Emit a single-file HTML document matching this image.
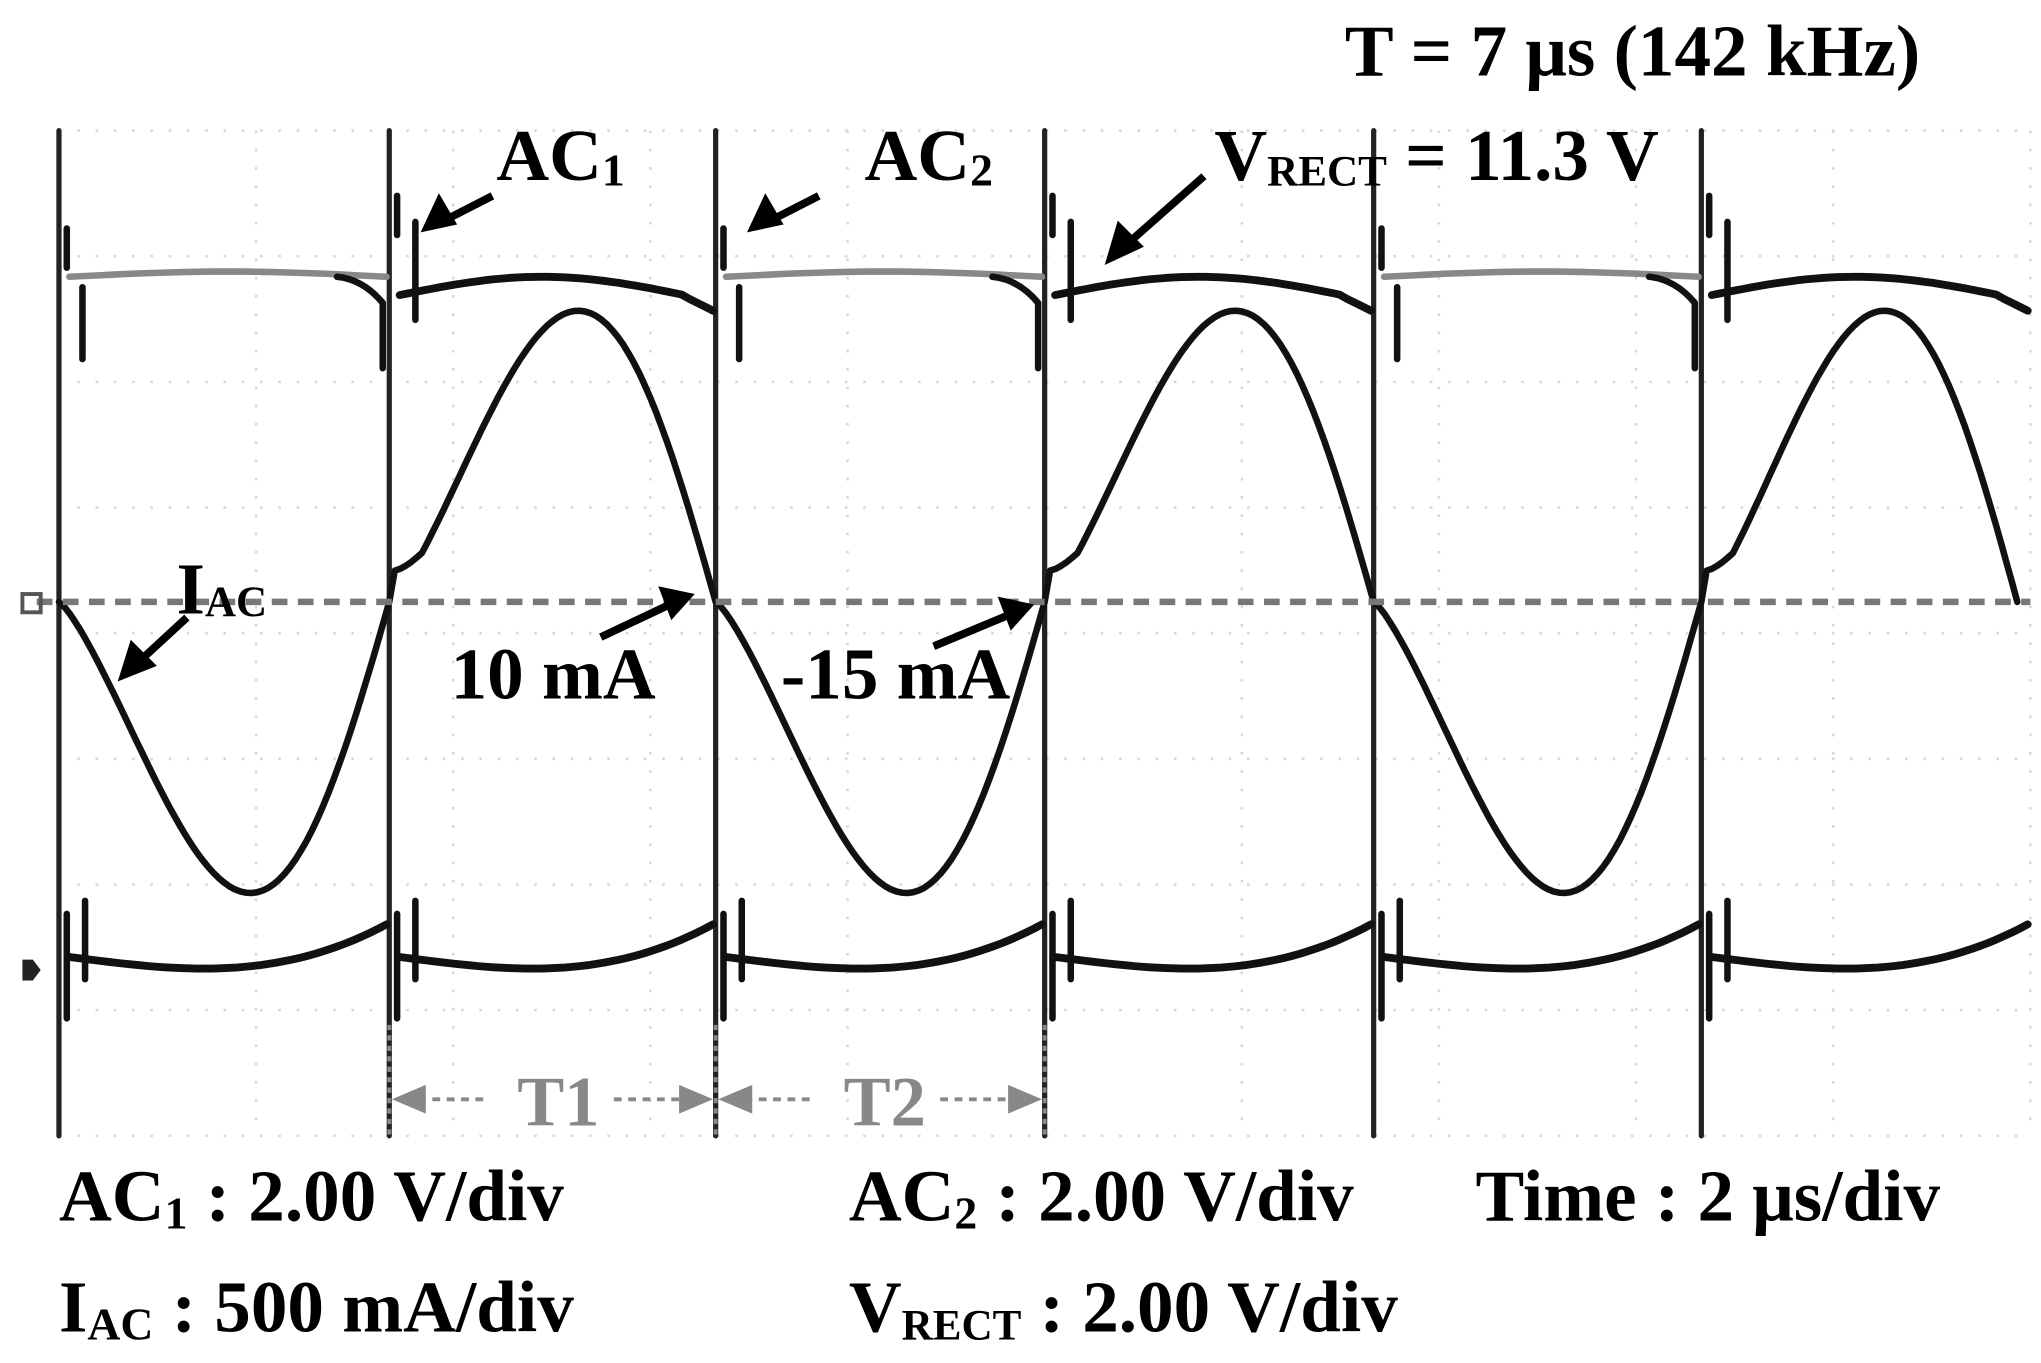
<!DOCTYPE html>
<html><head><meta charset="utf-8"><style>
html,body{margin:0;padding:0;background:#fff;}
svg{display:block;}
text{font-family:"Liberation Serif",serif;font-weight:bold;fill:#000;}
</style></head><body>
<svg id="s" width="2041" height="1363" viewBox="0 0 1563 1044" xmlns="http://www.w3.org/2000/svg">
<rect width="1563" height="1044" fill="#fff"/>
<g id="grid" stroke="#d8d8d8" stroke-width="2" stroke-dasharray="2 12"></g>
<g id="traces" fill="none" stroke-linecap="round" stroke-linejoin="round"></g>
<line x1="28" y1="461" x2="1555" y2="461" stroke="#777" stroke-width="5" stroke-dasharray="12 8"/>
<rect x="17" y="455" width="14" height="14" fill="none" stroke="#555" stroke-width="3"/>
<path d="M17 735 h8 l6 8 l-6 8 h-8z" fill="#222"/>
<g stroke="#888" stroke-width="3" fill="#888">
<line x1="298" y1="785" x2="298" y2="870" stroke-dasharray="4 4"/>
<line x1="548" y1="785" x2="548" y2="870" stroke-dasharray="4 4"/>
<line x1="800" y1="785" x2="800" y2="870" stroke-dasharray="4 4"/>
<line x1="320" y1="842" x2="375" y2="842" stroke-dasharray="6 5"/>
<line x1="470" y1="842" x2="528" y2="842" stroke-dasharray="6 5"/>
<line x1="570" y1="842" x2="625" y2="842" stroke-dasharray="6 5"/>
<line x1="720" y1="842" x2="780" y2="842" stroke-dasharray="6 5"/>
<path d="M300 842 l26 -11 v22z M546 842 l-26 -11 v22z M550 842 l26 -11 v22z M798 842 l-26 -11 v22z" stroke="none"/>
</g>
<text x="396" y="862" font-size="54" style="fill:#888">T1</text>
<text x="646" y="862" font-size="54" style="fill:#888">T2</text>
<g stroke="#000" stroke-width="6" fill="#000">
<line x1="377" y1="150" x2="338" y2="170"/><path d="M322 178 l14 -30 l14 24z" stroke="none"/>
<line x1="627" y1="150" x2="588" y2="170"/><path d="M572 178 l14 -30 l14 24z" stroke="none"/>
<line x1="922" y1="135" x2="862" y2="188"/><path d="M846 203 l10 -34 l20 20z" stroke="none"/>
<line x1="143" y1="473" x2="105" y2="508"/><path d="M90 522 l10 -32 l20 20z" stroke="none"/>
<line x1="460" y1="488" x2="515" y2="462"/><path d="M532 455 l-28 -6 l10 26z" stroke="none"/>
<line x1="715" y1="495" x2="775" y2="470"/><path d="M792 463 l-28 -6 l10 26z" stroke="none"/>
</g>
<text x="1030" y="58" font-size="56">T = 7 μs (142 kHz)</text>
<text x="380" y="138" font-size="56">AC<tspan font-size="35" dy="4">1</tspan></text>
<text x="662" y="138" font-size="56">AC<tspan font-size="35" dy="4">2</tspan></text>
<text x="930" y="138" font-size="56">V<tspan font-size="33" dy="4">RECT</tspan><tspan dy="-4"> = 11.3 V</tspan></text>
<text x="135" y="470" font-size="56">I<tspan font-size="33" dy="2">AC</tspan></text>
<text x="345" y="535" font-size="56">10 mA</text>
<text x="598" y="535" font-size="56">-15 mA</text>
<text x="45" y="935" font-size="56">AC<tspan font-size="35" dy="6">1</tspan><tspan dy="-6"> : 2.00 V/div</tspan></text>
<text x="650" y="935" font-size="56">AC<tspan font-size="35" dy="6">2</tspan><tspan dy="-6"> : 2.00 V/div</tspan></text>
<text x="1130" y="935" font-size="56">Time : 2 μs/div</text>
<text x="45" y="1020" font-size="56">I<tspan font-size="35" dy="6">AC</tspan><tspan dy="-6"> : 500 mA/div</tspan></text>
<text x="650" y="1020" font-size="56">V<tspan font-size="33" dy="6">RECT</tspan><tspan dy="-6"> : 2.00 V/div</tspan></text>
</svg>
<script>
var NS="http://www.w3.org/2000/svg";
function el(p,t,a){var e=document.createElementNS(NS,t);for(var k in a)e.setAttribute(k,a[k]);p.appendChild(e);return e;}
var g=document.getElementById('grid');
for(var i=0;i<=10;i++){var x=45+i*151;el(g,'line',{x1:x,y1:100,x2:x,y2:870});}
for(var j=0;j<=8;j++){var y=100+j*96.25;el(g,'line',{x1:45,y1:y,x2:1555,y2:y});}
var tr=document.getElementById('traces');
var P=[45,298,548,800,1052,1303,1555];
for(var i=0;i<6;i++){var x=P[i];el(tr,'line',{x1:x,y1:100,x2:x,y2:870,stroke:'#222',"stroke-width":4});}
for(var i=0;i<6;i++){
 var a=P[i],b=P[i+1],odd=i%2==1,d='';
 for(var k=0;k<=40;k++){var u=k/40,x=a+8+(b-a-10)*u;
  var y=odd?(226-14*Math.sin(Math.PI*Math.min(1,u*1.1))+ (u>0.9?(u-0.9)*120:0)):(212-4*Math.sin(Math.PI*u));
  d+=(k?'L':'M')+x.toFixed(1)+' '+y.toFixed(1);}
 el(tr,'path',{d:d,stroke:odd?'#111':'#888',"stroke-width":odd?6:5});
 var sx=a+(odd?20:18);
 el(tr,'path',{d:'M'+(a+6)+' '+(odd?150:175)+' v30 M'+sx+' '+(odd?170:220)+' v'+(odd?75:55),stroke:'#111',"stroke-width":5});
 if(!odd){el(tr,'path',{d:'M'+(b-40)+' 212 q20 2 35 20 v50',stroke:'#111',"stroke-width":5});}
}
for(var i=0;i<6;i++){
 var a=P[i],b=P[i+1],d='';
 for(var k=0;k<=40;k++){var u=k/40,x=a+8+(b-a-10)*u;var y=733+10*Math.sin(Math.PI*u)-Math.pow(u,4)*25;
  d+=(k?'L':'M')+x.toFixed(1)+' '+y.toFixed(1);}
 el(tr,'path',{d:d,stroke:'#111',"stroke-width":6});
 el(tr,'path',{d:'M'+(a+6)+' 700 v80 M'+(a+20)+' 690 v60',stroke:'#111',"stroke-width":5});
}
var dd='';
for(var i=0;i<6;i++){
 var a=P[i],b=P[i+1],pos=i%2==1;
 for(var k=0;k<=60;k++){var u=k/60,v=Math.pow(u,1.27);var s=Math.sin(Math.PI*v);
  var y=pos?461-223*s:461+223*s;var x=a+(b-a)*u;
  if(i==5)x=a+(1545-a)*u;
  dd+=(k==0?'M':'L');
  if(pos&&k<6)y-=(6-k)*4*(k>0?1:0);
  dd+=x.toFixed(1)+' '+y.toFixed(1);}
}
el(tr,'path',{d:dd,stroke:'#111',"stroke-width":5});
</script>
</body></html>
